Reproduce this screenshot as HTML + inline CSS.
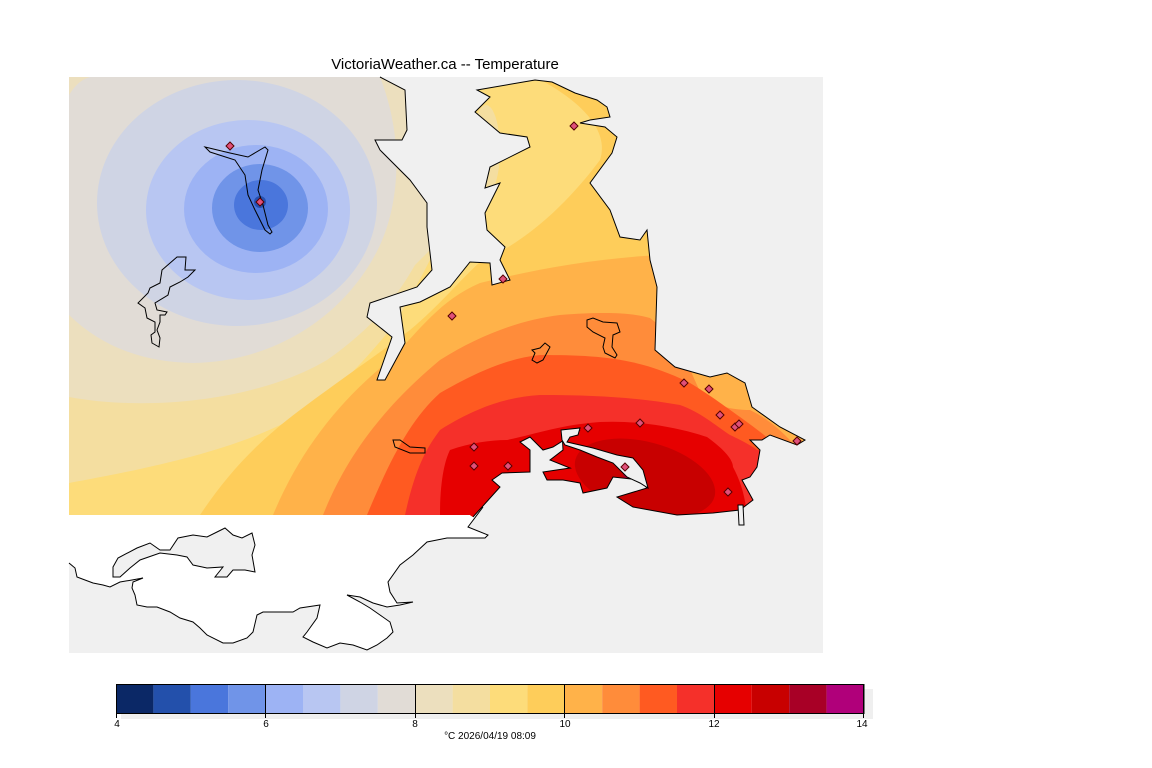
<!DOCTYPE html>
<html><head><meta charset="utf-8"><style>
html,body{margin:0;padding:0;background:#fff;}
svg{display:block;font-family:"Liberation Sans","DejaVu Sans",sans-serif;}
</style></head><body>
<svg width="1152" height="768" viewBox="0 0 1152 768" xmlns="http://www.w3.org/2000/svg">
<defs>
<clipPath id="land">
<path d="M69,77 L380,77 L405,90 L407,130 L402,140 L375,140 L380,150 L410,180 L427,203 L427,227 L432,270 L417,287 L370,303 L367,317 L392,337 L377,380 L385,380 L405,343 L400,307 L420,302 L450,287 L470,262 L490,263 L492,285 L510,280 L500,260 L505,247 L487,230 L485,213 L500,183 L485,188 L490,167 L530,147 L527,137 L500,133 L475,112 L490,97 L477,90 L535,80 L552,82 L575,93 L597,100 L607,107 L610,117 L590,120 L580,123 L605,127 L617,137 L612,153 L590,183 L610,210 L620,237 L640,240 L647,230 L650,260 L657,287 L655,350 L675,367 L710,377 L727,373 L745,383 L752,407 L780,427 L805,440 L797,445 L770,435 L762,440 L750,440 L760,450 L757,467 L750,477 L742,480 L753,500 L740,510 L713,513 L677,515 L633,507 L617,497 L647,488 L640,480 L613,477 L607,488 L583,493 L580,483 L563,480 L547,480 L543,472 L570,468 L550,460 L563,450 L562,432 L580,430 L553,447 L543,450 L530,437 L520,442 L530,450 L530,472 L502,473 L492,480 L500,487 L473,517 L470,515 L69,515 Z"/>
</clipPath>
</defs>
<text x="445" y="69" font-size="15" text-anchor="middle" fill="#000">VictoriaWeather.ca -- Temperature</text>
<rect x="69" y="77" width="754" height="576" fill="#f0f0f0"/>
<path d="M69,515 L470,515 L483,507 L468,527 L488,535 L485,538 L467,538 L447,538 L427,542 L413,555 L400,565 L388,582 L390,592 L397,603 L413,602 L400,605 L387,607 L373,603 L360,597 L347,595 L360,602 L370,608 L380,615 L390,622 L393,632 L387,638 L377,645 L367,650 L353,645 L340,643 L327,648 L313,642 L303,637 L307,632 L317,618 L320,605 L300,608 L293,612 L277,612 L263,612 L257,615 L253,632 L247,638 L233,643 L223,643 L207,635 L200,628 L193,622 L180,618 L170,612 L157,607 L147,607 L137,605 L135,595 L132,588 L133,582 L143,578 L132,580 L120,582 L110,587 L103,585 L93,583 L85,580 L77,577 L75,568 L69,563 Z" fill="#fff" stroke="none"/>
<path d="M483,507 L468,527 L488,535 L485,538 L467,538 L447,538 L427,542 L413,555 L400,565 L388,582 L390,592 L397,603 L413,602 L400,605 L387,607 L373,603 L360,597 L347,595 L360,602 L370,608 L380,615 L390,622 L393,632 L387,638 L377,645 L367,650 L353,645 L340,643 L327,648 L313,642 L303,637 L307,632 L317,618 L320,605 L300,608 L293,612 L277,612 L263,612 L257,615 L253,632 L247,638 L233,643 L223,643 L207,635 L200,628 L193,622 L180,618 L170,612 L157,607 L147,607 L137,605 L135,595 L132,588 L133,582 L143,578 L132,580 L120,582 L110,587 L103,585 L93,583 L85,580 L77,577 L75,568 L69,563" fill="none" stroke="#000" stroke-width="1"/>
<path d="M113,567 L118,558 L137,548 L150,543 L160,550 L170,550 L178,538 L193,535 L207,537 L217,532 L225,528 L233,535 L242,538 L252,533 L255,545 L252,555 L255,572 L245,570 L233,570 L227,577 L215,577 L223,567 L207,568 L193,565 L187,557 L177,555 L160,553 L140,560 L130,568 L120,577 L113,577 Z" fill="#f0f0f0" stroke="#000" stroke-width="1"/>
<g clip-path="url(#land)">
<rect x="60" y="70" width="800" height="460" fill="#ecdfbe"/>
<path d="M69,397 C150,412 260,400 327,360 C370,330 395,300 415,265 L440,240 L470,200 L470,77 L900,77 L900,700 L69,700 Z" fill="#f4dea0"/>
<path d="M69,483 C140,470 230,452 290,420 C330,400 360,365 390,330 C410,300 425,270 440,240 L460,180 L470,77 L900,77 L900,700 L69,700 Z" fill="#fddc7a"/>
<ellipse cx="486" cy="150" rx="14" ry="45" fill="#f4dea0"/>
<path d="M200,515 C230,470 260,440 300,410 C340,380 370,360 410,330 C440,305 460,280 480,262 C530,240 570,200 600,160 C610,130 580,100 535,77 L900,77 L900,700 L200,700 Z" fill="#fecd5a"/>
<path d="M273,515 C300,450 340,400 390,360 C420,330 440,300 480,283 C540,268 600,258 660,255 L900,255 L900,700 L273,700 Z" fill="#ffb249"/>
<path d="M323,515 C345,460 380,410 440,360 C480,335 520,320 560,315 C600,312 630,312 650,318 C680,340 690,370 697,385 C705,405 730,410 750,410 C770,420 780,430 795,445 L900,460 L900,700 L323,700 Z" fill="#ff8c3a"/>
<path d="M367,515 C390,460 410,420 440,393 C480,370 510,358 540,355 C600,355 640,358 690,383 C710,395 730,410 740,417 C755,428 765,435 773,443 L900,460 L900,700 L367,700 Z" fill="#ff5a21"/>
<path d="M405,515 C415,470 425,450 440,430 C480,405 510,397 540,395 C600,395 640,398 680,405 C700,412 715,425 730,435 C745,442 755,448 757,450 L900,460 L900,700 L405,700 Z" fill="#f5302a"/>
<path d="M440,515 C440,480 445,460 450,450 C470,443 490,440 507,440 C540,433 560,425 600,422 C640,420 680,428 707,437 C725,450 733,460 733,467 C740,480 745,495 747,515 L747,700 L440,700 Z" fill="#e60000"/>
<ellipse cx="645" cy="478" rx="72" ry="36" transform="rotate(15 645 478)" fill="#c80000"/>
<circle cx="632" cy="474" r="9" fill="#a80026"/>
<path d="M69,95 C75,85 82,79 90,77 L380,77 C405,140 400,210 375,255 C340,320 270,362 193,363 C140,362 100,345 69,315 Z" fill="#e1dcd6"/>
<ellipse cx="237" cy="203" rx="140" ry="123" fill="#cfd4e4"/>
<ellipse cx="248" cy="210" rx="102" ry="90" fill="#b8c6f2"/>
<ellipse cx="256" cy="209" rx="72" ry="64" fill="#9db3f4"/>
<ellipse cx="260" cy="208" rx="48" ry="44" fill="#7094e8"/>
<ellipse cx="261" cy="205" rx="27" ry="25" fill="#4a76dc"/>
<circle cx="260" cy="202" r="6" fill="#2550b0"/>
</g>
<path d="M380,77 L405,90 L407,130 L402,140 L375,140 L380,150 L410,180 L427,203 L427,227 L432,270 L417,287 L370,303 L367,317 L392,337 L377,380 L385,380 L405,343 L400,307 L420,302 L450,287 L470,262 L490,263 L492,285 L510,280 L500,260 L505,247 L487,230 L485,213 L500,183 L485,188 L490,167 L530,147 L527,137 L500,133 L475,112 L490,97 L477,90 L535,80 L552,82 L575,93 L597,100 L607,107 L610,117 L590,120 L580,123 L605,127 L617,137 L612,153 L590,183 L610,210 L620,237 L640,240 L647,230 L650,260 L657,287 L655,350 L675,367 L710,377 L727,373 L745,383 L752,407 L780,427 L805,440 L797,445 L770,435 L762,440 L750,440 L760,450 L757,467 L750,477 L742,480 L753,500 L740,510 L713,513 L677,515 L633,507 L617,497 L647,488 L640,480 L613,477 L607,488 L583,493 L580,483 L563,480 L547,480 L543,472 L570,468 L550,460 L563,450 L562,432 L580,430 L553,447 L543,450 L530,437 L520,442 L530,450 L530,472 L502,473 L492,480 L500,487 L473,517" fill="none" stroke="#000" stroke-width="1"/>
<path d="M561,430 L580,428 L578,435 L570,437 L567,442 L593,448 L617,455 L633,458 L643,470 L648,488 L640,483 L627,477 L613,463 L597,457 L580,450 L565,445 L562,440 Z" fill="#f0f0f0" stroke="#000" stroke-width="1"/>
<path d="M738,505 L743,505 L744,525 L739,525 Z" fill="#f0f0f0" stroke="#000" stroke-width="1"/>
<g fill="none" stroke="#000" stroke-width="1">
<path d="M205,147 L230,153 L248,157 L265,147 L268,150 L262,170 L258,190 L263,205 L268,225 L272,232 L270,234 L265,230 L255,210 L248,195 L245,175 L235,160 L210,152 Z"/>
<path d="M177,257 L186,257 L185,270 L195,270 L188,277 L180,282 L170,287 L168,295 L155,303 L157,310 L167,312 L165,315 L160,315 L160,322 L157,330 L160,338 L159,347 L152,343 L151,335 L155,332 L155,322 L147,318 L145,308 L138,303 L148,293 L150,288 L160,283 L162,270 Z"/>
<path d="M393,440 L400,440 L410,447 L425,448 L425,453 L410,453 L395,447 Z"/>
<path d="M587,320 L593,318 L603,322 L617,323 L620,332 L613,335 L612,347 L617,355 L615,358 L605,353 L603,347 L605,338 L593,332 L587,327 Z"/>
<path d="M532,350 L540,348 L545,343 L550,347 L543,360 L537,363 L532,360 L535,353 Z"/>
</g>
<g fill="#e0507a" stroke="#500" stroke-width="1">
<path d="M230,142 l4,4 l-4,4 l-4,-4 Z"/>
<path d="M260,198 l4,4 l-4,4 l-4,-4 Z"/>
<path d="M574,122 l4,4 l-4,4 l-4,-4 Z"/>
<path d="M503,275 l4,4 l-4,4 l-4,-4 Z"/>
<path d="M452,312 l4,4 l-4,4 l-4,-4 Z"/>
<path d="M684,379 l4,4 l-4,4 l-4,-4 Z"/>
<path d="M709,385 l4,4 l-4,4 l-4,-4 Z"/>
<path d="M720,411 l4,4 l-4,4 l-4,-4 Z"/>
<path d="M735,423 l4,4 l-4,4 l-4,-4 Z"/>
<path d="M739,420 l4,4 l-4,4 l-4,-4 Z"/>
<path d="M640,419 l4,4 l-4,4 l-4,-4 Z"/>
<path d="M588,424 l4,4 l-4,4 l-4,-4 Z"/>
<path d="M474,443 l4,4 l-4,4 l-4,-4 Z"/>
<path d="M474,462 l4,4 l-4,4 l-4,-4 Z"/>
<path d="M508,462 l4,4 l-4,4 l-4,-4 Z"/>
<path d="M728,488 l4,4 l-4,4 l-4,-4 Z"/>
<path d="M797,437 l4,4 l-4,4 l-4,-4 Z"/>
<path d="M625,463 l4,4 l-4,4 l-4,-4 Z"/>
</g>
<rect x="121" y="689" width="752" height="30" fill="#efefef"/>
<g>
<rect x="116" y="684" width="37.4" height="29" fill="#0b2866"/>
<rect x="153.4" y="684" width="37.4" height="29" fill="#2350ab"/>
<rect x="190.8" y="684" width="37.4" height="29" fill="#4a76dc"/>
<rect x="228.2" y="684" width="37.4" height="29" fill="#7094e8"/>
<rect x="265.6" y="684" width="37.4" height="29" fill="#9db3f4"/>
<rect x="303" y="684" width="37.4" height="29" fill="#b8c6f2"/>
<rect x="340.4" y="684" width="37.4" height="29" fill="#cfd4e4"/>
<rect x="377.8" y="684" width="37.4" height="29" fill="#e1dcd6"/>
<rect x="415.2" y="684" width="37.4" height="29" fill="#ecdfbe"/>
<rect x="452.6" y="684" width="37.4" height="29" fill="#f4dea0"/>
<rect x="490" y="684" width="37.4" height="29" fill="#fddc7a"/>
<rect x="527.4" y="684" width="37.4" height="29" fill="#fecd5a"/>
<rect x="564.8" y="684" width="37.4" height="29" fill="#ffb249"/>
<rect x="602.2" y="684" width="37.4" height="29" fill="#ff8c3a"/>
<rect x="639.6" y="684" width="37.4" height="29" fill="#ff5a21"/>
<rect x="677" y="684" width="37.4" height="29" fill="#f5302a"/>
<rect x="714.4" y="684" width="37.4" height="29" fill="#e60000"/>
<rect x="751.8" y="684" width="37.4" height="29" fill="#c80000"/>
<rect x="789.2" y="684" width="37.4" height="29" fill="#a80026"/>
<rect x="826.6" y="684" width="37.4" height="29" fill="#b0007a"/>
</g>
<rect x="116.5" y="684.5" width="747.5" height="29" fill="none" stroke="#000" stroke-width="1"/>
<g stroke="#000" stroke-width="1">
<line x1="116.5" y1="684" x2="116.5" y2="718"/>
<line x1="265.5" y1="684" x2="265.5" y2="718"/>
<line x1="415.5" y1="684" x2="415.5" y2="718"/>
<line x1="564.5" y1="684" x2="564.5" y2="718"/>
<line x1="714.5" y1="684" x2="714.5" y2="718"/>
<line x1="863.5" y1="684" x2="863.5" y2="718"/>
</g>
<g font-size="10" text-anchor="middle" fill="#000">
<text x="117" y="727">4</text>
<text x="266" y="727">6</text>
<text x="415" y="727">8</text>
<text x="565" y="727">10</text>
<text x="714" y="727">12</text>
<text x="862" y="727">14</text>
<text x="490" y="739">°C  2026/04/19 08:09</text>
</g>
</svg>
</body></html>
